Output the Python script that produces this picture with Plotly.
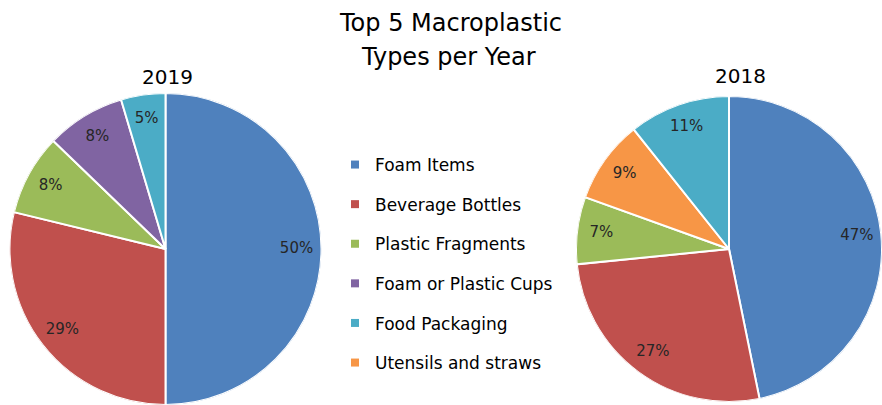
import plotly.graph_objects as go

categories = ["Foam Items", "Beverage Bottles", "Plastic Fragments",
              "Foam or Plastic Cups", "Food Packaging", "Utensils and straws"]
colors = {"Foam Items": "#4F81BD", "Beverage Bottles": "#C0504D",
          "Plastic Fragments": "#9BBB59", "Foam or Plastic Cups": "#8064A2",
          "Food Packaging": "#4BACC6", "Utensils and straws": "#F79646"}

labels_2019 = ["Foam Items", "Beverage Bottles", "Plastic Fragments",
               "Foam or Plastic Cups", "Food Packaging"]
values_2019 = [50.0, 28.8, 8.4, 8.2, 4.6]

labels_2018 = ["Foam Items", "Beverage Bottles", "Plastic Fragments",
               "Utensils and straws", "Food Packaging"]
values_2018 = [46.8, 26.6, 7.1, 8.8, 10.7]

FONT = "'DejaVu Sans', sans-serif"
W, H = 882, 405
LABEL_R = 0.84

fig = go.Figure()


def slices(labels, values):
    total = sum(values)
    thetas, widths, texts, cum = [], [], [], 0.0
    for v in values:
        thetas.append((cum + v / 2) / total * 360)
        widths.append(v / total * 360)
        texts.append(f"{round(v / total * 100)}%")
        cum += v
    return thetas, widths, texts


def add_year(labels, values, subplot):
    thetas, widths, texts = slices(labels, values)
    fig.add_trace(go.Barpolar(
        r=[1] * len(values), theta=thetas, width=widths,
        marker=dict(color=[colors[l] for l in labels],
                    line=dict(color="white", width=2)),
        customdata=[[l, t] for l, t in zip(labels, texts)],
        hovertemplate="%{customdata[0]}: %{customdata[1]}<extra></extra>",
        subplot=subplot, showlegend=False))
    fig.add_trace(go.Scatterpolar(
        r=[LABEL_R] * len(values), theta=thetas, text=texts, mode="text",
        textfont=dict(family=FONT, size=15, color="#262626"),
        subplot=subplot, showlegend=False, hoverinfo="skip"))


add_year(labels_2019, values_2019, "polar")
add_year(labels_2018, values_2018, "polar2")

for cat in categories:
    fig.add_trace(go.Scatter(
        x=[None], y=[None], mode="markers", name=cat, legendgroup=cat,
        marker=dict(symbol="square", size=8, color=colors[cat]),
        showlegend=True, hoverinfo="skip"))

dom1 = dict(x=[9.5 / W, 321.5 / W], y=[0, 312 / H])
dom2 = dict(x=[576 / W, 1.0], y=[0, 312 / H])

polar_style = dict(
    bgcolor="rgba(0,0,0,0)", bargap=0, hole=0,
    angularaxis=dict(visible=False, rotation=90, direction="clockwise"),
    radialaxis=dict(visible=False, range=[0, 1]),
)

annotations = [
    dict(text="Top 5 Macroplastic", x=450 / W, y=1 - 23 / H,
         xref="paper", yref="paper", xanchor="center", yanchor="middle",
         showarrow=False, font=dict(family=FONT, size=24, color="#000000")),
    dict(text="Types per Year", x=448 / W, y=1 - 57 / H,
         xref="paper", yref="paper", xanchor="center", yanchor="middle",
         showarrow=False, font=dict(family=FONT, size=24, color="#000000")),
    dict(text="2019", x=167 / W, y=1 - 77 / H, xref="paper", yref="paper",
         xanchor="center", yanchor="middle", showarrow=False,
         font=dict(family=FONT, size=20, color="#000000")),
    dict(text="2018", x=740 / W, y=1 - 76 / H, xref="paper", yref="paper",
         xanchor="center", yanchor="middle", showarrow=False,
         font=dict(family=FONT, size=20, color="#000000")),
]

fig.update_layout(
    width=W, height=H, margin=dict(l=0, r=0, t=0, b=0),
    paper_bgcolor="white", plot_bgcolor="white",
    annotations=annotations,
    xaxis=dict(visible=False), yaxis=dict(visible=False),
    polar=dict(domain=dom1, **polar_style),
    polar2=dict(domain=dom2, **polar_style),
    legend=dict(x=(355 - 20) / W, y=1 - 147 / H, xanchor="left", yanchor="top",
                font=dict(family=FONT, size=17, color="#000000"),
                tracegroupgap=14.5, bgcolor="rgba(0,0,0,0)"),
)

fig.write_html("out.html")
